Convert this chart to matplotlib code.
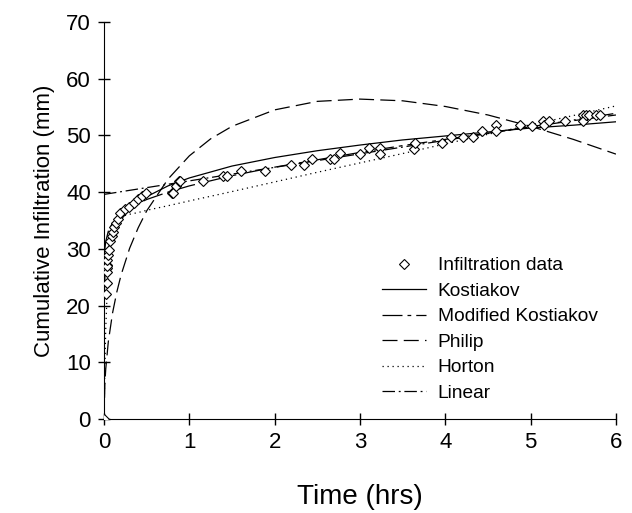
import numpy as np
import matplotlib.pyplot as plt

plt.rcParams['font.family'] = ['Liberation Sans', 'DejaVu Sans']

t_obs = [0, 0.025, 0.03, 0.03, 0.035, 0.04, 0.04, 0.04, 0.05, 0.06, 0.07, 0.09, 0.11,
         0.12, 0.14, 0.16, 0.19, 0.24, 0.29, 0.35, 0.40, 0.45, 0.49, 0.80, 0.81, 0.84,
         0.88, 0.89, 1.16, 1.39, 1.44, 1.61, 1.89, 2.19, 2.34, 2.44, 2.65, 2.69, 2.77,
         3.00, 3.10, 3.23, 3.23, 3.63, 3.65, 3.96, 4.07, 4.21, 4.33, 4.43, 4.59, 4.59,
         4.88, 5.02, 5.14, 5.16, 5.22, 5.40, 5.61, 5.61, 5.65, 5.69, 5.77, 5.81]
i_obs = [0, 22.0, 23.9, 26.6, 27.2, 26.0, 26.9, 28.0, 28.9, 29.8, 31.3, 32.2, 33.0,
         33.9, 34.5, 35.2, 36.3, 37.0, 37.4, 38.1, 38.7, 39.3, 39.9, 39.9, 39.8, 41.0,
         41.9, 42.0, 41.9, 42.9, 42.9, 43.8, 43.8, 44.8, 44.8, 45.8, 45.8, 45.8, 46.9,
         46.7, 47.8, 47.8, 46.7, 47.6, 48.7, 48.7, 49.7, 49.7, 49.7, 50.7, 51.9, 50.7,
         51.9, 51.7, 52.6, 51.9, 52.6, 52.6, 53.6, 52.6, 53.6, 53.6, 53.6, 53.6]

# --- fitted model curves ---
t_fit = [0, 0.001, 0.003, 0.01, 0.02, 0.05, 0.1, 0.15, 0.2, 0.3, 0.4, 0.5, 0.75,
         1, 1.5, 2, 2.5, 3, 3.5, 4, 4.5, 5, 5.5, 6]
kostiakov = [0, 19.0, 21.6, 24.9, 26.9, 30.0, 32.5, 34.1, 35.2, 36.9, 38.2, 39.2, 41.1,
             42.5, 44.6, 46.1, 47.3, 48.3, 49.2, 49.9, 50.6, 51.3, 51.8, 52.4]
mod_kostiakov = [0, 26.1, 27.9, 30.0, 31.3, 33.1, 34.6, 35.5, 36.2, 37.2, 38.0, 38.7, 40.0,
                 41.1, 42.9, 44.4, 45.7, 47.0, 48.2, 49.3, 50.4, 51.5, 52.6, 53.6]

t_philip = [0, 0.01, 0.02, 0.05, 0.1, 0.15, 0.2, 0.3, 0.4, 0.5, 0.75, 1, 1.25, 1.5,
            2, 2.5, 3, 3.5, 4, 4.5, 5, 5.5, 6]
philip = [0, 6.3, 8.8, 13.6, 18.7, 22.4, 25.4, 30.1, 33.7, 36.7, 42.3, 46.4, 49.4, 51.6,
          54.5, 56.0, 56.4, 56.1, 55.1, 53.6, 51.6, 49.3, 46.7]

t_horton = [0, 0.005, 0.01, 0.02, 0.05, 0.1, 0.15, 0.2, 0.3, 0.4, 0.5, 0.75, 1, 1.5,
            2, 2.5, 3, 3.5, 4, 4.5, 5, 5.5, 6]
horton = [0, 4.9, 9.1, 15.9, 27.4, 33.7, 35.2, 35.7, 36.1, 36.4, 36.8, 37.6, 38.45, 40.1,
          41.8, 43.5, 45.15, 46.8, 48.5, 50.2, 51.85, 53.5, 55.2]

t_linear = [0, 6]
linear = [39.6, 53.9]

fig = plt.figure(figsize=(6.32, 5.13), dpi=100)
ax = fig.add_axes([0.1646, 0.1832, 0.810, 0.774])

ax.plot(t_obs, i_obs, linestyle='none', marker='D', markersize=5.5, mfc='white',
        mec='black', mew=0.8, label='Infiltration data', zorder=5)
ax.plot(t_fit, kostiakov, color='black', lw=0.9, label='Kostiakov')
ax.plot(t_fit, mod_kostiakov, color='black', lw=0.9, dashes=(16, 4, 3, 4),
        label='Modified Kostiakov')
ax.plot(t_philip, philip, color='black', lw=0.9, dashes=(12, 5), label='Philip')
ax.plot(t_horton, horton, color='black', lw=0.9, dashes=(1, 3), label='Horton')
ax.plot(t_linear, linear, color='black', lw=0.9, dashes=(10, 3, 1.5, 3), label='Linear')

ax.set_xlim(0, 6)
ax.set_ylim(0, 70)
ax.set_xticks(range(0, 7))
ax.set_yticks(range(0, 71, 10))
ax.spines['top'].set_visible(False)
ax.spines['right'].set_visible(False)
ax.tick_params(direction='inout', length=9, width=1, labelsize=16, pad=5)

ax.set_xlabel('Time (hrs)', fontsize=20, labelpad=22)
ax.set_ylabel('Cumulative Infiltration (mm)', fontsize=16, labelpad=8)

ax.legend(loc='upper left', bbox_to_anchor=(0.543, 0.408), frameon=False, fontsize=13.8,
          handlelength=2.3, labelspacing=0.42, handletextpad=0.6,
          borderpad=0, borderaxespad=0)

fig.savefig('out.png', dpi=100)
